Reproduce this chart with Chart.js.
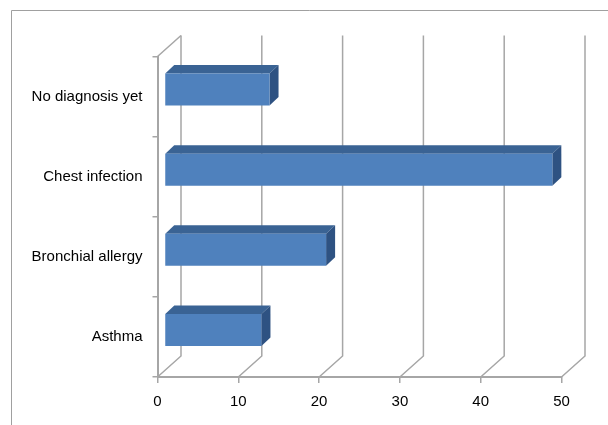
<!DOCTYPE html>
<html>
<head>
<meta charset="utf-8">
<script src="https://cdn.jsdelivr.net/npm/chart.js@4/dist/chart.umd.min.js"></script>
<style>
  html, body { margin: 0; padding: 0; background: #fff; }
  #wrap { width: 608px; height: 425px; position: relative; }
</style>
</head>
<body>
<div id="wrap"><canvas id="c" width="608" height="425"></canvas></div>
<script>
const categories = ["No diagnosis yet", "Chest infection", "Bronchial allergy", "Asthma"];
const values = [13, 48, 20, 12];
const xTicks = [0, 10, 20, 30, 40, 50];

const WALL_DX = 23.5, WALL_DY = -21;   // depth of 3D plot box
const BAR_DX = 7, BAR_DY = -7;         // position of bar front face inside box
const DEP_DX = 9, DEP_DY = -8.5;       // bar depth
const GRID = '#a6a6a6';

const frame3d = {
  id: 'frame3d',
  beforeDraw(chart) {
    const ctx = chart.ctx;
    ctx.save();
    ctx.strokeStyle = '#a0a0a0';
    ctx.lineWidth = 1;
    ctx.beginPath();
    ctx.moveTo(11.5, 425);
    ctx.lineTo(11.5, 10.5);
    ctx.lineTo(608, 10.5);
    ctx.stroke();
    ctx.restore();
  },
  beforeDatasetsDraw(chart) {
    const ctx = chart.ctx;
    const a = chart.chartArea;
    const xs = chart.scales.x;
    ctx.save();
    ctx.strokeStyle = GRID;
    ctx.lineWidth = 1.5;
    xTicks.forEach(v => {
      const px = xs.getPixelForValue(v);
      ctx.beginPath();
      ctx.moveTo(px, a.bottom);
      ctx.lineTo(px + WALL_DX, a.bottom + WALL_DY);
      ctx.lineTo(px + WALL_DX, a.top + WALL_DY);
      ctx.stroke();
    });
    // left wall top edge
    const p0 = xs.getPixelForValue(0);
    ctx.beginPath();
    ctx.moveTo(p0, a.top);
    ctx.lineTo(p0 + WALL_DX, a.top + WALL_DY);
    ctx.stroke();

    // bar side faces
    const meta = chart.getDatasetMeta(0);
    meta.data.forEach(bar => {
      const p = bar.getProps(['x', 'y', 'base', 'height'], true);
      const right = p.x + BAR_DX;
      const top = p.y - p.height / 2 + BAR_DY;
      const bottom = p.y + p.height / 2 + BAR_DY;
      const left = p.base + BAR_DX;
      ctx.fillStyle = '#3a6394';
      ctx.beginPath();
      ctx.moveTo(left, top);
      ctx.lineTo(left + DEP_DX, top + DEP_DY);
      ctx.lineTo(right + DEP_DX, top + DEP_DY);
      ctx.lineTo(right, top);
      ctx.closePath();
      ctx.fill();
      ctx.fillStyle = '#2e5282';
      ctx.beginPath();
      ctx.moveTo(right, top);
      ctx.lineTo(right + DEP_DX, top + DEP_DY);
      ctx.lineTo(right + DEP_DX, bottom + DEP_DY);
      ctx.lineTo(right, bottom);
      ctx.closePath();
      ctx.fill();
    });
    ctx.restore();
    ctx.save();
    ctx.translate(BAR_DX, BAR_DY);
  },
  afterDatasetsDraw(chart) {
    chart.ctx.restore();
  }
};

new Chart(document.getElementById('c'), {
  type: 'bar',
  data: {
    labels: categories,
    datasets: [{
      data: values,
      backgroundColor: '#4f81bd',
      borderWidth: 0,
      barPercentage: 0.4,
      categoryPercentage: 1.0
    }]
  },
  options: {
    indexAxis: 'y',
    responsive: false,
    animation: false,
    devicePixelRatio: 1,
    layout: { padding: { left: 0, top: 56.5, right: 46.5, bottom: 0 } },
    plugins: { legend: { display: false }, tooltip: { enabled: false } },
    scales: {
      x: {
        type: 'linear',
        min: 0, max: 50,
        afterBuildTicks(scale) { scale.ticks = xTicks.map(v => ({ value: v })); },
        afterFit(scale) { scale.height = 48; },
        grid: { drawOnChartArea: false, drawTicks: true, tickLength: 6, color: GRID, lineWidth: 1.5 },
        border: { display: true, color: GRID, width: 2 },
        ticks: { color: '#000', font: { family: 'Liberation Sans', size: 15 }, padding: 10 }
      },
      y: {
        type: 'category',
        afterFit(scale) { scale.width = 157.5; },
        grid: { drawOnChartArea: false, drawTicks: true, tickLength: 5, offset: true, color: GRID, lineWidth: 1.5 },
        border: { display: true, color: GRID, width: 2 },
        ticks: { color: '#000', font: { family: 'Liberation Sans', size: 15 }, padding: 10 }
      }
    }
  },
  plugins: [frame3d]
});
</script>
</body>
</html>
